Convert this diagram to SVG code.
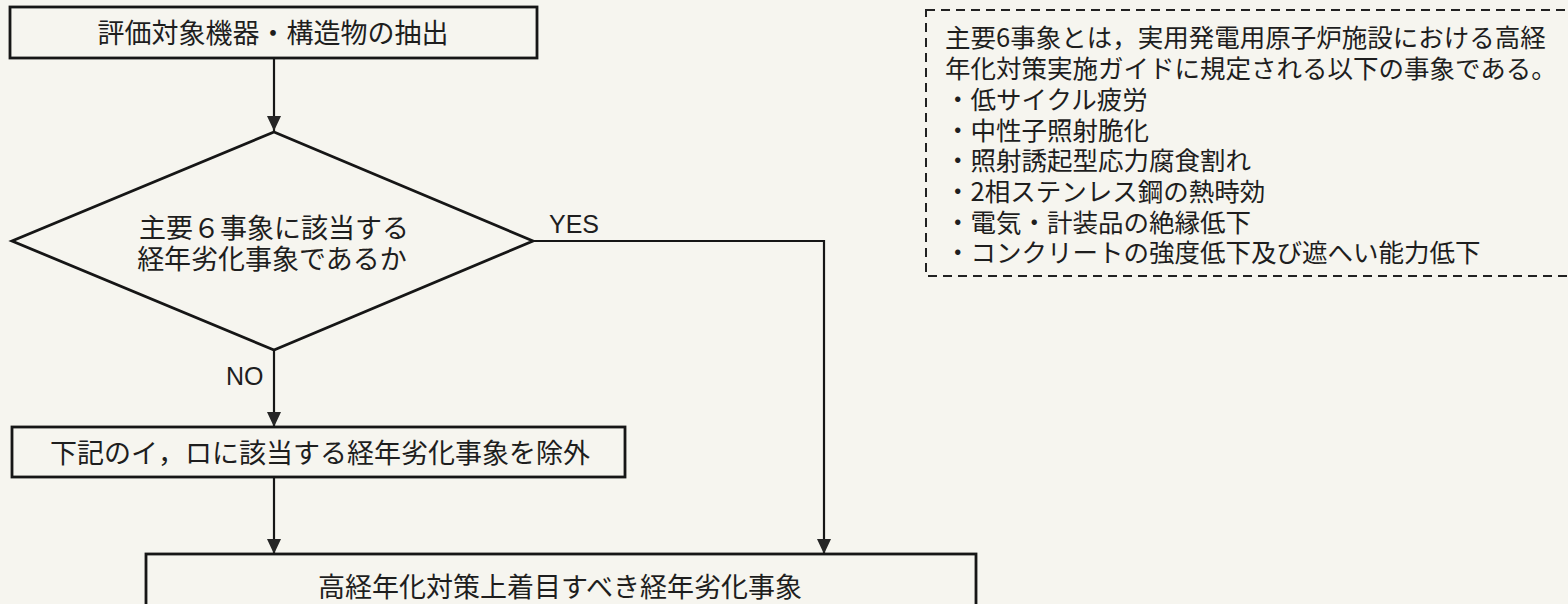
<svg xmlns="http://www.w3.org/2000/svg" width="1568" height="604" viewBox="0 0 1568 604">
  <defs>
    <style>
      .bg { fill: #f6f5ef; }
      .box { fill: none; stroke: #161616; stroke-width: 2.8; }
      .dash { fill: none; stroke: #222; stroke-width: 2; stroke-dasharray: 9 6; }
      .conn { fill: none; stroke: #161616; stroke-width: 2.2; }
      .jp { font-family: "Noto Sans CJK JP", "Noto Sans", sans-serif; fill: #1e1e1e; }
      .lat { font-family: "Liberation Sans", "Noto Sans", sans-serif; fill: #1e1e1e; font-size: 25px; }
      .t27 { font-size: 27px; }
      .t25 { font-size: 25.5px; }
    </style>
    <marker id="arr" viewBox="0 0 15 14" refX="15" refY="7" markerWidth="15" markerHeight="14" orient="auto" markerUnits="userSpaceOnUse">
      <path d="M0,0 L15,7 L0,14 z" fill="#262626"/>
    </marker>
  </defs>
  <rect class="bg" x="0" y="0" width="1568" height="604"/>

  <g id="connectors">
    <line class="conn" x1="274" y1="58" x2="274" y2="131" marker-end="url(#arr)"/>
    <line class="conn" x1="274" y1="350" x2="274" y2="427" marker-end="url(#arr)"/>
    <line class="conn" x1="274" y1="477" x2="274" y2="554" marker-end="url(#arr)"/>
    <polyline class="conn" points="533,241 824,241 824,554" marker-end="url(#arr)"/>
    <text class="lat" x="549" y="233">YES</text>
    <text class="lat" x="226" y="385">NO</text>
  </g>

  <g id="node-extract">
    <rect class="box" x="10" y="7" width="527" height="51"/>
    <text class="jp t27" x="273" y="43" text-anchor="middle">評価対象機器・構造物の抽出</text>
  </g>

  <g id="node-decision">
    <polygon class="box" points="274,132 533,241 274,350 12,241"/>
    <text class="jp t27" x="274" y="238" text-anchor="middle">主要６事象に該当する</text>
    <text class="jp t27" x="272" y="269" text-anchor="middle">経年劣化事象であるか</text>
  </g>

  <g id="node-exclude">
    <rect class="box" x="12" y="427" width="613" height="50"/>
    <text class="jp t27" x="320" y="463" text-anchor="middle">下記のイ，ロに該当する経年劣化事象を除外</text>
  </g>

  <g id="node-result">
    <rect class="box" x="146" y="554" width="830" height="70"/>
    <text class="jp t27" x="560" y="597" text-anchor="middle">高経年化対策上着目すべき経年劣化事象</text>
  </g>

  <g id="node-note">
    <rect class="dash" x="926" y="10" width="660" height="266"/>
    <text class="jp t25" x="945" y="47">主要6事象とは，実用発電用原子炉施設における高経</text>
    <text class="jp t25" x="945" y="78">年化対策実施ガイドに規定される以下の事象である。</text>
    <text class="jp t25" x="945" y="109">・低サイクル疲労</text>
    <text class="jp t25" x="945" y="140">・中性子照射脆化</text>
    <text class="jp t25" x="945" y="170">・照射誘起型応力腐食割れ</text>
    <text class="jp t25" x="945" y="201">・2相ステンレス鋼の熱時効</text>
    <text class="jp t25" x="945" y="232">・電気・計装品の絶縁低下</text>
    <text class="jp t25" x="945" y="262">・コンクリートの強度低下及び遮へい能力低下</text>
  </g>
</svg>
